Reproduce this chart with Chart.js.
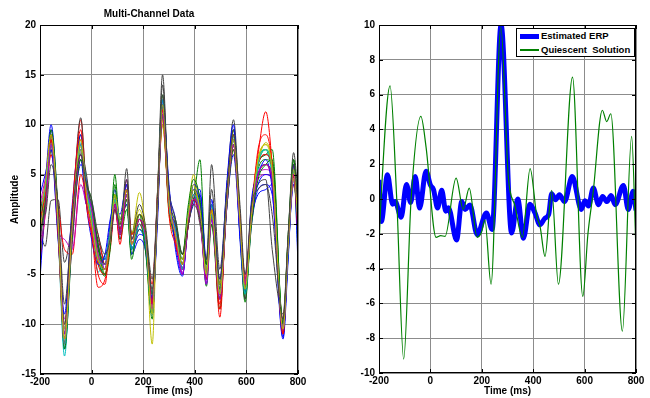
<!DOCTYPE html>
<html>
<head>
<meta charset="utf-8">
<title>Multi-Channel Data</title>
<script src="https://cdn.jsdelivr.net/npm/chart.js@4.4.1/dist/chart.umd.min.js"></script>
<style>
  body { margin: 0; background: #fff; }
  #page { position: relative; width: 650px; height: 398px; overflow: hidden; }
  .panel { position: absolute; top: 0; height: 398px; }
  #leftPanel { left: 0; width: 338px; }
  #rightPanel { left: 338px; width: 312px; }
  #legend {
    position: absolute; left: 516px; top: 28px; width: 117px; height: 27px;
    border: 1px solid #000; background: #fff;
    font: bold 9.5px "Liberation Sans", Arial, sans-serif; color: #000;
  }
  .legend-row { position: absolute; left: 0; right: 0; height: 14px; }
  .legend-line { position: absolute; left: 3px; width: 19px; }
  .legend-text { position: absolute; left: 24px; top: 0; line-height: 14px; white-space: pre; }
</style>
</head>
<body>
<div id="page">
  <div class="panel" id="leftPanel"><canvas id="multiChannelChart"></canvas></div>
  <div class="panel" id="rightPanel"><canvas id="erpChart"></canvas></div>
  <div id="legend"></div>
</div>
<script>
// ===== data =====

// left panel: key sample times (ms) shared by all channels
const leftTimes = [-200, -180, -157, -130, -105, -75, -42, -20, 0, 25,
  52, 72, 90, 110, 136, 155, 185, 208, 235, 255,
  275, 300, 325, 352, 375, 395, 420, 445, 465, 497,
  525, 550, 575, 595, 620, 645, 675, 700, 742, 762,
  783, 800];

const ch01 = [-1, 4, 10, 1, -12.5, -1, 6, 4.5, 1, -2, -4.5, -2, 1.5, -1, 3.5, -2.5, 0, -1.5, -8, 1, 12.5, 3, -2, -5, 0, 2.5, 3.5, -4, 1, -6.5, 2, 8, 0, -6.5, 0, 3.5, 4, 3, -11.3, -3, 4.5, 2];
const ch02 = [1.5, 3, 8, -1, -11, 1, 7.5, 2.5, 0, -3.5, -5, -1, 5, 0, 2, -2.5, 0, -2, -9.5, 3, 12, 1.5, -1.5, -4, 1, 2.5, 6.5, -5, 1, -7, 4, 9, -1, -7.8, 1, 6.5, 7.5, 5.5, -10.5, -2.5, 6, -1];
const ch03 = [-4, 1, 7.5, 1.5, -12, 0, 10.5, 3.5, -0.5, -6.3, -5.5, -2, 3, -1, 3, -1, 1, -0.5, -7, 2, 10.5, 2.5, -1.5, -4.5, 0, 3, 2, -4, 2, -9.3, 3.5, 8, 0.5, -5.5, 2, 7, 11.3, 6, -11, -2, 6, 0];
const ch04 = [0, 2.5, 8.5, -1, -13.2, 0.5, 8.2, 4, 1.5, -4.8, -3, -1.5, 2, 0, 4, -2, 0, -1, -7.5, 1.5, 11, 2, 0, -3.5, 1, 3.5, 1.5, -5, 0.5, -6, 2.5, 8.8, -1, -6.5, 1.5, 6, 7.5, 4.5, -10, -1.5, 5, -2];
const ch05 = [2, 4.5, 7, 0.5, -9.5, -2, 7.5, 3, -1, -2.5, -4, 0, 2.5, -1.5, 4.5, -1.5, 0.5, -1.5, -8.5, 1, 11, 1.5, -0.5, -4.5, 0.5, 3, 0.5, -5.5, 1, -7.5, 2.5, 8, 0, -5, 1, 5, 5.5, 5, -10.5, -2, 4, 1];
const ch06 = [0.5, 3.5, 8, 0, -10, 1, 8, 2, 0.5, -3, -4, -1, 2, 0, 3, -1, 3.2, -0.5, -12, 2.5, 10.5, 1, -1, -3, 1.5, 5, 1, -4, 2, -6, 4, 9.5, 1, -5.5, 1, 6, 8.2, 6, -10, -1.5, 4, 0];
const ch07 = [-0.5, -2.2, 2.4, 2.5, -3.8, 0.5, 7.2, 5, 1, -1.5, -3.5, -2, 2, -1, 5.6, -1, 2, 0, -5.5, 3, 15, 2.5, 0, -3, 1, 3, 0, -3.5, 6, -4.5, 4, 10.5, 1, -7, 2, 4, 4.5, -2.5, -9, -1, 7.2, 3];
const ch08 = [-5.5, 2, 9, 0, -11.5, 0, 6.5, 2, 2, -2.5, -3.5, 0, 3.5, 0.5, 2, -2, -0.5, -2, -8, 2, 12.5, 3.5, 0.5, -5, 0, 2, 3, -3.5, 0.5, -7.5, 2, 7, -1, -6, 0.5, 3, 3.5, 4, -11, -2.5, 4, 1.5];
const ch09 = [1, 3.5, 9, 0.5, -12, 0, 9, 3.5, 0.5, -3.5, -5.2, -1.5, 2.5, -1.5, 1.5, -3, 0.5, -1, -8, 2, 13, 2, -1, -4.5, 1, 3.5, 1.5, -6.2, 0, -8.5, 3, 9.5, 0, -7.5, 1.5, 6, 7, 7.5, -10.5, -3, 5.5, -1];
const ch10 = [-1, 2, 7, 2, -2.5, -3, 5, 2.5, 1, -1, -4, -2.5, 1.5, -1, 2.5, -1, 0, -1.5, -6, 2, 10, 2, -1, -4, 0, 2.5, 0.5, -4.5, 1, -6, 2.5, 7.5, 0, -5.5, 1.5, 5, 6, 4, -9.5, -2, 5, -0.5];
const ch11 = [2.5, 3, 9, -0.5, -12.5, 1, 8, 3, 0, -4, -4.5, -1, 3, 0, 2.5, -2.5, -0.5, -2, -8.5, 1.5, 12, 2.5, -1, -4, 0.5, 3, 1, -4.5, 1.5, -7, 3, 9, -0.5, -6, 1, 6.5, 7.5, 5, -11, -2, 5.5, -3];
const ch12 = [-2, 4, 8.5, -0.5, -1.5, -2.5, 4, 2, 0.5, -2, -4.5, -1, 2.5, -1, 3.5, -1.5, 0, -1, -9, 1, 11.5, 1.5, -1, -5, 1, 2, 1, -5.5, 1, -7, 2, 8.5, -0.5, -5.5, 0.5, 4.5, 5, 4.5, -10.5, -2.5, 5, 2.5];
const ch13 = [0, 2.5, 7.5, 0, -11, 0.5, 7.8, 3, 1, -3, -4.5, -1, 2, 0, 3, -1.5, 1, -1, -8, 1.5, 10.5, 2, -1.5, -4, 0.5, 3, 1.5, -5.5, 1.5, -6.5, 3, 8, 0.5, -6.5, 1, 6.5, 8, 6.2, -10, -2, 5, 1];
const ch14 = [0, 3, 8.5, 0, -12, 0.5, 10.7, 3, 0, -3.5, -4.5, -1, 2.5, -0.5, 3, -2, 0.5, -1, -7.5, 2, 14, 2, -1, -4.5, 0.5, 3.5, 1, -5, 2, -7, 3, 9.5, 0, -7.5, 1.5, 6, 7, 5.5, -10.5, -2.5, 6.5, 0];
const ch15 = [0, 3, 9.5, 0.5, -11, 0, 7.5, 3.5, 1.5, -3, -4, -1.5, 2, -0.5, 3.5, -2.5, -1, -1.5, -7.5, 2.5, 12, 2.5, -0.5, -4.5, 0.5, 4, 2.5, -4.5, 1, -6, 2.5, 8.5, 0.5, -6, 1, 4, 5, 4.5, -10.5, -2, 5, 0.5];
const ch16 = [-1, 2, 7.5, 0.5, -10.5, 1, 7, 2.5, 0.5, -2.5, -4, -0.5, 3, 0.5, 2.5, -1, 1, -0.5, -7, 2, 11, 1.5, -1, -3.5, 1, 3, 1, -4, 1, -6, 3.5, 8, 0, -6, 1, 5.5, 6.5, 6, -10, -2, 5.5, 0.5];
const ch17 = [1, 3, 9, -0.5, -11.5, 0.5, 8.5, 2.5, 0, -4, -5, -1.5, 2.5, -0.5, 3, -2, 0.5, -1.5, -8, 2, 11, 2.5, -1.5, -4.5, 0, 2.5, 1.5, -5.5, 1, -8, 3, 9, 0, -6.5, 1, 6, 7, 5.5, -11, -2.5, 5, -1.5];
const ch18 = [0.5, 3, 8, 0.5, -10.5, 0, 7.5, 4, 1, -3, -3.5, -0.5, 2.5, 0.5, 2.5, -1.5, 0, -1, -7, 2.5, 11, 2, -1, -4, 1, 3, 1.5, -4.5, 2, -6.5, 3, 8.5, 0, -6, 1.5, 5.5, 6, 5, -10, -2, 4.5, 0];
const ch19 = [1.5, 4, 8, 0, -11.5, 0.5, 8, 2.5, 0.5, -3.5, -4.5, -1, 2, -1, 4, -1.5, 0.5, -1, -8, 1.5, 11.5, 2, -1, -4.5, 1, 3, 0.5, -5, 1, -7, 2.5, 8.5, -0.5, -6, 1, 5, 6, 5, -10.5, -2, 4.5, 0.5];
const ch20 = [-0.5, 3, 8, 0, -10.5, 1, 7.5, 3, 1, -3, -4, -1, 2.5, 0, 2.5, -1, 1.5, -1, -8.5, 2, 10, 2, -1, -3.5, 1.5, 4, 1, -4.5, 1.5, -6, 3.5, 9, 0.5, -6, 1, 6, 7.5, 5.5, -10, -1.5, 4.5, 0];
const ch21 = [-1.5, 2, 8, 1, -10, 0, 6.5, 4, 2, -2, -4, -2, 2, -1, 3, -2.5, -0.5, -1.5, -7, 1.5, 12, 3, 0, -4, 0, 2.5, 1, -4, 1.5, -6.5, 2.5, 8, 0.5, -6.5, 1.5, 5, 6, 4.5, -10, -1.5, 5.5, -1];
const ch22 = [3, 5, 7.5, -1.5, -9, 2, 9, 2, -1.5, -4, -3, 0.5, 2, 1, 4, -3, -1.5, -2.5, -8, 0, 12, 4, -2.5, -5.2, 1, 3.5, 2, -6, 2.5, -5.5, 4.5, 10, -1.5, -6.8, 2.5, 5, 6.5, 3.5, -11.5, -3.5, 6, -4];
const ch23 = [-3, 1.5, 9.5, 1.5, -12.5, -1.5, 6.5, 4, 2.5, -2, -5, -2.5, 4, -1, 2.5, -3.5, 1, -2.5, -9, 1, 11, 2, 0.5, -3, 2, 4.5, 2.5, -4, 0, -7.5, 2, 7.5, 0, -7, 0, 4.5, 6, 6.5, -10, -1, 6.5, 1.5];
const ch24 = [0.5, 3, 8.5, -1, -12, 1.5, 9.5, 2, -1, -5, -6, -1, 2, -2, 3.5, -1, 0, -1, -8, 3, 11.5, 1, -2, -4, 0.5, 3, 1, -5, 1.5, -8.5, 3, 8.5, 1, -6, 1, 7.5, 9, 6, -11, -2, 5, -1];
const ch25 = [1, 3.5, 8, 0, -12, 0, 8, 3.5, 0.5, -3.5, -4, -1, 2.5, 0.5, 3, -2.5, 0, -1.5, -9, 2, 12.5, 2, -0.5, -4.5, 1, 3, 1, -5, 1, -7, 3, 8.5, 0, -7, 1, 6, 7.5, 5.5, -10.5, -2.5, 5.5, 0];
const ch26 = [-2.5, 1, 8, 1, -11, -0.5, 7, 3.5, 1.5, -3, -4, -1.5, 2, -1, 3, -2, 0.5, -1, -8.5, 1.5, 11, 2.5, -1, -5, 0.5, 2.5, 1, -6, 0.5, -7.5, 2.5, 8, 0, -6, 1, 5, 6, 4.5, -10.5, -2, 5, 1.5];
const ch27 = [1, 4, 9, 0.5, -11.5, 0, 8.5, 3, 0, -3.5, -4.5, -1.5, 3, 0.5, 3.5, -2, 1, -0.5, -9, 2, 12, 2.5, -1, -4, 1, 3.5, 1.5, -5, 1.5, -7, 3, 8.5, 0.5, -6.5, 1, 6.5, 8, 5.5, -10.5, -2, 5.5, 0.5];
const ch28 = [2.5, 1, 6, 2, -8, 1, 7, 4, 2.5, -1, -3, -1.5, 1.5, 0, 4.5, -1.5, 1, -0.5, -6.5, 2.5, 13, 3.5, 0.5, -3, 0, 2, 0.5, -3.5, 3.5, -5.5, 3.5, 9, 2, -5, 2, 3.5, 4, 1, -9.5, -1, 6, 2];

const channels = [ch01, ch02, ch03, ch04, ch05, ch06, ch07, ch08, ch09, ch10,
  ch11, ch12, ch13, ch14, ch15, ch16, ch17, ch18, ch19, ch20,
  ch21, ch22, ch23, ch24, ch25, ch26, ch27, ch28];

// matlab default line colour cycle
const channelColors = ['#0000ff', '#008000', '#ff0000', '#00bfbf', '#bf00bf', '#bfbf00', '#404040'];

// right panel
const erpTimes = [-200, -191, -167, -147, -137, -114, -93, -77, -59, -42,
  -17, 0, 12, 28, 44, 60, 70, 102, 122, 135,
  154, 182, 218, 240, 275, 316, 340, 362, 387, 407,
  426, 446, 460, 472, 487, 502, 522, 552, 587, 601,
  615, 634, 654, 670, 687, 703, 719, 751, 770, 789, 800];
const erpValues = [1.1, -1.3, 1.4, -0.3, -0.15, -1.05, 0.83, -0.2, 1.3, -0.52,
  1.6, 0.8, 0.55, -0.52, 0.5, -0.7, -0.5, -2.35, -0.15, -0.6,
  -0.35, -2.05, -0.8, -1.75, 10.0, -1.95, 0, -2.25, -0.3, -0.8,
  -1.48, -1.1, -0.9, 0.3, -0.05, 0.25, -0.15, 1.3, -0.6, -0.1,
  -0.4, 0.63, -0.33, 0.15, -0.15, 0.2, -0.33, 0.78, -0.6, 0.45, -0.65];

const quiescentTimes = [-200, -192, -157, -131, -104, -75, -37, -17, 22, 40,
  57, 100, 128, 151, 182, 199, 212, 236, 274, 303,
  329, 358, 388, 414, 427, 446, 472, 498, 553, 593,
  613, 633, 669, 686, 702, 747, 783, 800];
const quiescentValues = [-2.7, 0, 6.5, 0, -9.2, 0, 4.75, 3.0, -2.2, -2.1,
  -2.15, 1.2, -0.6, 0.63, -2.2, -1.9, -1.2, -4.9, 9.9, 1.3,
  -0.4, -2.2, 1.75, -1.0, -1.6, -3.3, 0.5, -4.9, 7.0, -5.6,
  -2.0, 0.35, 5.1, 4.45, 4.9, -7.6, 3.6, -3.0];

const timeTicks = { min: -200, max: 800, step: 200 };

// ===== chart setup =====

Chart.defaults.font.family = '"Liberation Sans", Arial, Helvetica, sans-serif';
Chart.defaults.font.size = 10;
Chart.defaults.font.weight = 'bold';
Chart.defaults.color = '#000';

const gridColor = '#8c8c8c';

// black box round the plot with small inward ticks, like matlab's "box on"
const framePlugin = {
  id: 'frame',
  afterDatasetsDraw(chart) {
    const { ctx, chartArea: a, scales } = chart;
    ctx.save();
    ctx.strokeStyle = '#000';
    ctx.lineWidth = 1;
    ctx.strokeRect(Math.round(a.left) + 0.5, Math.round(a.top) + 0.5,
      Math.round(a.right - a.left) - 1, Math.round(a.bottom - a.top) - 1);
    ctx.beginPath();
    scales.x.ticks.forEach((t, i) => {
      const px = Math.round(scales.x.getPixelForTick(i)) + 0.5;
      ctx.moveTo(px, a.bottom); ctx.lineTo(px, a.bottom - 4);
      ctx.moveTo(px, a.top); ctx.lineTo(px, a.top + 4);
    });
    scales.y.ticks.forEach((t, i) => {
      const py = Math.round(scales.y.getPixelForTick(i)) + 0.5;
      ctx.moveTo(a.left, py); ctx.lineTo(a.left + 4, py);
      ctx.moveTo(a.right, py); ctx.lineTo(a.right - 4, py);
    });
    ctx.stroke();
    ctx.restore();
  }
};

function toPoints(times, values) {
  return times.map((t, i) => ({ x: t, y: values[i] }));
}

function makeScales(yMin, yMax, yStep, yTitle, yWidth, xHeight) {
  return {
    x: {
      type: 'linear',
      min: timeTicks.min,
      max: timeTicks.max,
      ticks: { stepSize: timeTicks.step, padding: 2, maxRotation: 0, autoSkip: false },
      grid: { color: gridColor, drawTicks: false },
      border: { display: false },
      title: { display: true, text: 'Time (ms)', padding: { top: 0, bottom: 1 } },
      afterFit: scale => { scale.height = xHeight; }
    },
    y: {
      type: 'linear',
      min: yMin,
      max: yMax,
      ticks: { stepSize: yStep, padding: 4 },
      grid: { color: gridColor, drawTicks: false },
      border: { display: false },
      title: yTitle
        ? { display: true, text: yTitle, padding: { top: 9, bottom: 0 } }
        : { display: false },
      afterFit: scale => { scale.width = yWidth; }
    }
  };
}

// Multi-channel panel (later channels drawn on top, as in matlab)
const leftDatasets = channels.map((vals, i) => ({
  label: 'Channel ' + (i + 1),
  data: toPoints(leftTimes, vals),
  borderColor: channelColors[i % channelColors.length],
  borderWidth: 1,
  pointRadius: 0,
  cubicInterpolationMode: 'monotone',
  fill: false,
  order: -i
}));

new Chart(document.getElementById('multiChannelChart'), {
  type: 'line',
  data: { datasets: leftDatasets },
  options: {
    responsive: true,
    maintainAspectRatio: false,
    animation: false,
    layout: { padding: { left: 0, right: 40, top: 0, bottom: 0 } },
    plugins: {
      legend: { display: false },
      tooltip: { enabled: false },
      title: {
        display: true,
        text: 'Multi-Channel Data',
        color: '#000',
        font: { size: 10, weight: 'bold' },
        padding: { top: 8, bottom: 5 }
      }
    },
    scales: makeScales(-15, 20, 5, 'Amplitude', 40, 24)
  },
  plugins: [framePlugin]
});

// ERP panel
const erpDatasets = [
  {
    label: 'Estimated ERP',
    data: toPoints(erpTimes, erpValues),
    borderColor: '#0000ff',
    borderWidth: 5,
    pointRadius: 0,
    cubicInterpolationMode: 'monotone',
    fill: false,
    order: 1
  },
  {
    label: 'Quiescent  Solution',
    data: toPoints(quiescentTimes, quiescentValues),
    borderColor: '#008000',
    borderWidth: 1.2,
    pointRadius: 0,
    cubicInterpolationMode: 'monotone',
    fill: false,
    order: 0
  }
];

const erpChart = new Chart(document.getElementById('erpChart'), {
  type: 'line',
  data: { datasets: erpDatasets },
  options: {
    responsive: true,
    maintainAspectRatio: false,
    animation: false,
    layout: { padding: { left: 0, right: 14, top: 25, bottom: 0 } },
    plugins: {
      legend: { display: false },
      tooltip: { enabled: false }
    },
    scales: makeScales(-10, 10, 2, null, 41, 25)
  },
  plugins: [framePlugin]
});

// legend box inside the top right of the ERP axes
const legendEl = document.getElementById('legend');
erpChart.data.datasets.forEach((ds, i) => {
  const row = document.createElement('div');
  row.className = 'legend-row';
  row.style.top = (i * 14) + 'px';
  const line = document.createElement('div');
  line.className = 'legend-line';
  line.style.height = ds.borderWidth + 'px';
  line.style.top = (7 - ds.borderWidth / 2) + 'px';
  line.style.background = ds.borderColor;
  const txt = document.createElement('span');
  txt.className = 'legend-text';
  txt.textContent = ds.label;
  row.appendChild(line);
  row.appendChild(txt);
  legendEl.appendChild(row);
});
</script>
</body>
</html>
